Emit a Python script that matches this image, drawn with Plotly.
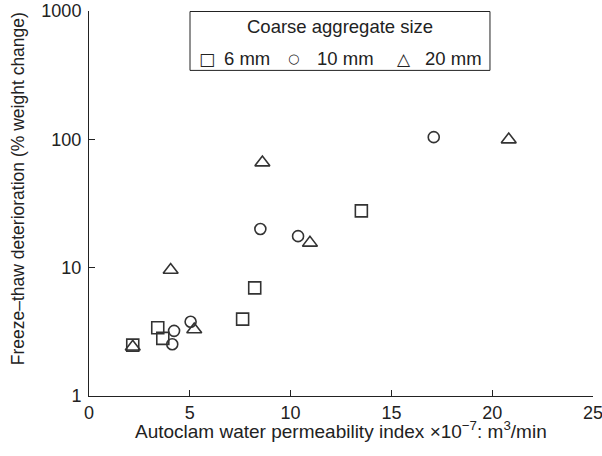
import plotly.graph_objects as go

# Data
x_6mm = [2.17, 3.41, 3.66, 7.62, 8.22, 13.51]
y_6mm = [2.49, 3.40, 2.81, 3.97, 6.96, 27.7]

x_10mm = [4.13, 4.22, 5.04, 8.50, 10.37, 17.10]
y_10mm = [2.53, 3.22, 3.79, 20.0, 17.6, 104]

x_20mm = [2.17, 4.05, 5.22, 8.60, 10.96, 20.82]
y_20mm = [2.42, 9.6, 3.30, 65.9, 15.6, 99.5]

series_names = ["6 mm", "10 mm", "20 mm"]
legend_glyphs = ["\u25a1", "\u25cb", "\u25b3"]
legend_title = "Coarse aggregate size"
y_tickvals = [1, 10, 100, 1000]
y_ticktext = ["1", "10", "100", "1000"]
x_tickvals = [0, 5, 10, 15, 20, 25]
x_title = "Autoclam water permeability index \u00d710<sup>\u22127</sup>: m<sup>3</sup>/min"
y_title = "Freeze\u2013thaw deterioration (% weight change)"

INK = "#333333"
TXT = "#222222"
FONT = "Liberation Sans, Arial, sans-serif"

fig = go.Figure()
specs = [
    (x_6mm, y_6mm, series_names[0], "square-open", 12),
    (x_10mm, y_10mm, series_names[1], "circle-open", 11),
    (x_20mm, y_20mm, series_names[2], "triangle-up-open", 13),
]
for xs, ys, name, sym, sz in specs:
    fig.add_trace(go.Scatter(
        x=xs, y=ys, mode="markers", name=name, showlegend=False,
        marker=dict(symbol=sym, size=sz, color=INK, line=dict(width=1.6, color=INK)),
    ))

# Framed key (paper coordinates)
fig.add_shape(type="rect", xref="paper", yref="paper",
              x0=0.2004, x1=0.7956, y0=0.8457, y1=0.9987,
              line=dict(color=TXT, width=1), fillcolor="white", layer="above")
fig.add_annotation(text=legend_title, xref="paper", yref="paper",
                   x=0.4980, y=0.9598, xanchor="center", yanchor="middle",
                   showarrow=False, font=dict(size=18.5, color=TXT, family=FONT))
glyph_x = [0.2341, 0.4067, 0.6250]
glyph_sizes = [17, 13, 17]
text_x = [0.2633, 0.4484, 0.6633]
for gx, gs, glyph, tx, name in zip(glyph_x, glyph_sizes, legend_glyphs, text_x, series_names):
    fig.add_annotation(text=glyph, xref="paper", yref="paper",
                       x=gx, y=0.8755, xanchor="center", yanchor="middle",
                       showarrow=False, font=dict(size=gs, color=TXT, family="DejaVu Sans"))
    fig.add_annotation(text=name, xref="paper", yref="paper",
                       x=tx, y=0.8755, xanchor="left", yanchor="middle",
                       showarrow=False, font=dict(size=18.5, color=TXT, family=FONT))

# Axis titles
fig.add_annotation(text=y_title, xref="paper", yref="paper",
                   x=-0.1409, y=0.5396, xanchor="center", yanchor="middle",
                   textangle=-90, showarrow=False,
                   font=dict(size=17.5, color=TXT, family=FONT))
fig.add_annotation(text=x_title, xref="paper", yref="paper",
                   x=0.5, y=-0.089, xanchor="center", yanchor="middle",
                   showarrow=False, font=dict(size=19, color=TXT, family=FONT))

fig.update_layout(
    width=602, height=456,
    margin=dict(l=89, r=9, t=10.5, b=60, pad=0),
    paper_bgcolor="white", plot_bgcolor="white",
    font=dict(family=FONT, size=18, color=TXT),
    showlegend=False,
    xaxis=dict(
        range=[0, 25], tickvals=x_tickvals, automargin=False,
        showline=True, linecolor=TXT, linewidth=1,
        ticks="inside", ticklen=6, tickcolor=TXT,
        ticklabeloverflow="allow",
        showgrid=False, zeroline=False,
    ),
    yaxis=dict(
        type="log", range=[0, 3], automargin=False,
        tickvals=y_tickvals, ticktext=y_ticktext,
        showline=True, linecolor=TXT, linewidth=1,
        ticks="inside", ticklen=6, tickcolor=TXT, ticklabelstandoff=3,
        ticklabeloverflow="allow",
        showgrid=False, zeroline=False,
    ),
)

fig.write_html("out.html", config={"displayModeBar": False},
               post_script="document.body.style.margin='0px';")
